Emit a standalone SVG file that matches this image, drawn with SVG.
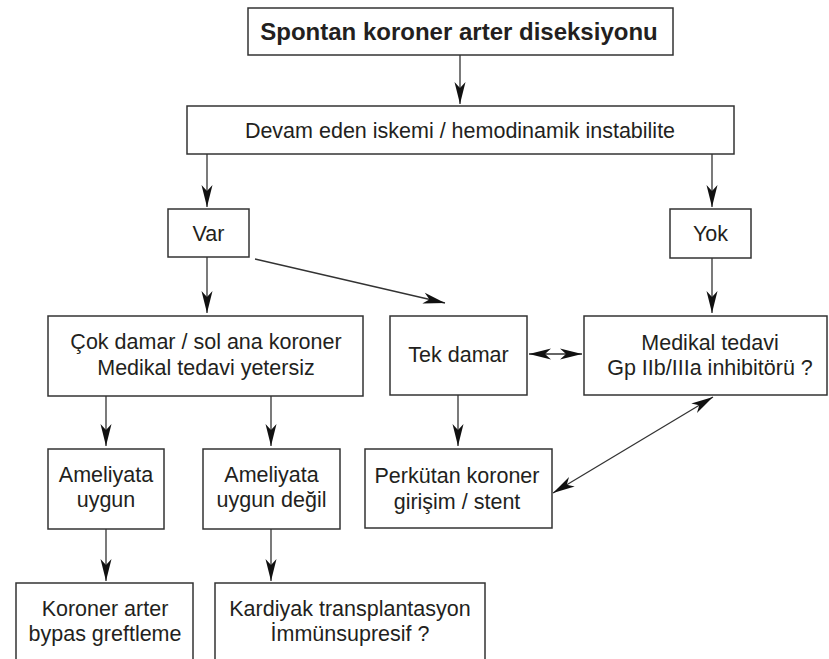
<svg xmlns="http://www.w3.org/2000/svg" width="829" height="659" viewBox="0 0 829 659">
<style>
  .box{fill:#fff;stroke:#333;stroke-width:1.5}
  .t{font-family:"Liberation Sans",Arial,Helvetica,sans-serif;font-size:21.5px;fill:#231f20;text-anchor:middle}
  .tb{font-family:"Liberation Sans",Arial,Helvetica,sans-serif;font-size:24px;font-weight:bold;fill:#231f20;text-anchor:middle}
  .c{fill:none;stroke:#333;stroke-width:1.3}
</style>
<defs>
  <marker id="ah" viewBox="-23 -7 24 14" refX="0" refY="0" markerWidth="24" markerHeight="14" markerUnits="userSpaceOnUse" orient="auto-start-reverse">
    <path d="M0,0 L-22,-5.5 L-16,0 L-22,5.5 Z" fill="#111"/>
  </marker>
</defs>
<rect width="829" height="659" fill="#fff"/>

<g id="connectors">
  <line class="c" x1="460" y1="55" x2="460" y2="104" marker-end="url(#ah)"/>
  <line class="c" x1="207" y1="154" x2="207" y2="207" marker-end="url(#ah)"/>
  <line class="c" x1="712" y1="154" x2="712" y2="207" marker-end="url(#ah)"/>
  <line class="c" x1="207" y1="257" x2="207" y2="313" marker-end="url(#ah)"/>
  <line class="c" x1="255" y1="259" x2="445" y2="303" marker-end="url(#ah)"/>
  <line class="c" x1="712" y1="258" x2="712" y2="313" marker-end="url(#ah)"/>
  <line class="c" x1="529" y1="354" x2="582" y2="354" marker-start="url(#ah)" marker-end="url(#ah)"/>
  <line class="c" x1="106" y1="396" x2="106" y2="446" marker-end="url(#ah)"/>
  <line class="c" x1="271" y1="396" x2="271" y2="446" marker-end="url(#ah)"/>
  <line class="c" x1="458" y1="395" x2="458" y2="446" marker-end="url(#ah)"/>
  <line class="c" x1="553" y1="493" x2="713" y2="397" marker-start="url(#ah)" marker-end="url(#ah)"/>
  <line class="c" x1="106" y1="529" x2="106" y2="581" marker-end="url(#ah)"/>
  <line class="c" x1="271" y1="529" x2="271" y2="581" marker-end="url(#ah)"/>
</g>

<g id="n-title">
  <rect class="box" x="248" y="8" width="425" height="47"/>
  <text class="tb" x="459" y="40">Spontan koroner arter diseksiyonu</text>
</g>
<g id="n-devam">
  <rect class="box" x="187" y="106" width="547" height="48"/>
  <text class="t" x="460" y="138">Devam eden iskemi / hemodinamik instabilite</text>
</g>
<g id="n-var">
  <rect class="box" x="168" y="209" width="81" height="48"/>
  <text class="t" x="208.5" y="241">Var</text>
</g>
<g id="n-yok">
  <rect class="box" x="670" y="209" width="81" height="49"/>
  <text class="t" x="710.5" y="241">Yok</text>
</g>
<g id="n-cok">
  <rect class="box" x="48" y="316" width="315" height="80"/>
  <text class="t" x="206" y="349">Çok damar / sol ana koroner</text>
  <text class="t" x="206" y="375">Medikal tedavi yetersiz</text>
</g>
<g id="n-tek">
  <rect class="box" x="390" y="316" width="137" height="79"/>
  <text class="t" x="458.5" y="362">Tek damar</text>
</g>
<g id="n-medikal">
  <rect class="box" x="584" y="316" width="243" height="79"/>
  <text class="t" x="710" y="350">Medikal tedavi</text>
  <text class="t" x="710" y="375">Gp IIb/IIIa inhibitörü ?</text>
</g>
<g id="n-uygun">
  <rect class="box" x="48" y="449" width="116" height="80"/>
  <text class="t" x="106" y="482">Ameliyata</text>
  <text class="t" x="106" y="507">uygun</text>
</g>
<g id="n-uygundegil">
  <rect class="box" x="203" y="449" width="137" height="80"/>
  <text class="t" x="271.5" y="482">Ameliyata</text>
  <text class="t" x="271.5" y="507">uygun değil</text>
</g>
<g id="n-perkutan">
  <rect class="box" x="365" y="449" width="187" height="79"/>
  <text class="t" x="457" y="483">Perkütan koroner</text>
  <text class="t" x="457" y="509">girişim / stent</text>
</g>
<g id="n-koroner">
  <rect class="box" x="16" y="583" width="177" height="90"/>
  <text class="t" x="105" y="616">Koroner arter</text>
  <text class="t" x="105" y="641">bypas greftleme</text>
</g>
<g id="n-kardiyak">
  <rect class="box" x="215" y="583" width="270" height="90"/>
  <text class="t" x="350" y="616">Kardiyak transplantasyon</text>
  <text class="t" x="350" y="641">İmmünsupresif ?</text>
</g>
</svg>
